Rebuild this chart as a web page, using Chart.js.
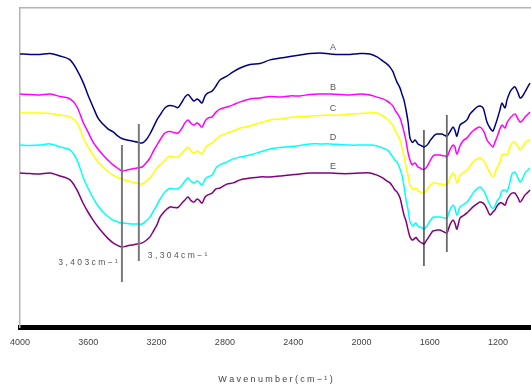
<!DOCTYPE html>
<html>
<head>
<meta charset="utf-8">
<title>FTIR spectra A–E</title>
<script src="https://cdn.jsdelivr.net/npm/chart.js@4.4.1/dist/chart.umd.min.js"></script>
<style>
  html, body { margin: 0; padding: 0; background: #ffffff; }
  #wrap { width: 531px; height: 386px; }
</style>
</head>
<body>
<div id="wrap"><canvas id="c" width="531" height="386"></canvas></div>
<script>
// Wavenumber grid (cm-1), shared by all five spectra
const WAVENUMBERS = [
  4000, 3941, 3883, 3824, 3766, 3707,
  3666, 3631, 3602, 3572, 3543,
  3514, 3485, 3455, 3426, 3403,
  3373, 3344, 3315, 3285, 3262,
  3239, 3215, 3198, 3180, 3157,
  3139, 3121, 3098, 3075, 3051,
  3034, 3016, 2998, 2981, 2963,
  2952, 2934, 2916, 2899, 2875,
  2852, 2829, 2788, 2752, 2711,
  2653, 2594, 2536, 2477, 2419,
  2360, 2301, 2243, 2184, 2126,
  2067, 2009, 1950, 1909, 1874,
  1850, 1833, 1815, 1804, 1792,
  1774, 1763, 1751, 1739, 1727,
  1716, 1704, 1698, 1687, 1681,
  1669, 1657, 1646, 1634, 1622,
  1610, 1599, 1581, 1570, 1558,
  1540, 1529, 1511, 1499, 1482,
  1464, 1453, 1441, 1423, 1406,
  1382, 1364, 1347, 1323, 1306,
  1288, 1277, 1265, 1247, 1230,
  1218, 1206, 1189, 1177, 1159,
  1148, 1130, 1118, 1101, 1083,
  1071, 1060, 1042, 1030, 1013
];

// Transmittance (offset, arbitrary units) for each sample
const SERIES_A = [
  91.2, 91.0, 91.0, 91.3, 90.5, 89.2,
  85.8, 81.8, 77.5, 73.5, 69.8,
  67.8, 66.2, 65.2, 63.8, 63.0,
  62.5, 62.2, 61.8, 61.5, 62.5,
  64.5, 67.2, 69.2, 70.8, 72.8,
  73.7, 74.0, 73.8, 73.3, 75.2,
  76.8, 77.7, 76.5, 75.5, 76.2,
  75.8, 74.8, 77.2, 78.2, 78.8,
  80.5, 82.5, 83.8, 85.2, 86.5,
  87.7, 88.0, 89.2, 89.8, 90.3,
  90.8, 91.3, 91.5, 91.2, 91.0,
  91.0, 91.3, 91.2, 90.2, 88.8,
  87.8, 86.8, 85.2, 83.5, 81.8,
  79.8, 77.8, 75.8, 72.5, 68.5,
  63.2, 61.8, 61.8, 62.5, 62.2,
  61.2, 60.8, 60.5, 60.2, 60.5,
  61.2, 62.2, 63.5, 64.2, 64.5,
  64.5, 64.5, 64.0, 63.8, 65.2,
  66.8, 65.8, 63.8, 67.5, 68.2,
  69.2, 71.2, 72.2, 73.5, 73.8,
  73.2, 71.2, 68.5, 66.5, 65.5,
  67.2, 69.2, 72.5, 74.8, 73.2,
  75.8, 78.5, 79.5, 80.2, 78.2,
  76.5, 76.8, 78.5, 79.8, 81.5
];

const SERIES_B = [
  77.8, 77.7, 77.5, 77.8, 77.0, 76.2,
  73.5, 68.5, 65.2, 61.8, 59.5,
  57.5, 55.8, 54.2, 53.0, 52.2,
  52.5, 52.8, 53.2, 53.5, 54.8,
  56.5, 59.2, 60.8, 62.5, 64.5,
  65.2, 65.3, 65.0, 64.8, 66.5,
  68.2, 69.2, 68.0, 67.5, 68.2,
  67.8, 66.8, 68.8, 69.8, 70.2,
  71.8, 72.8, 73.5, 74.2, 75.2,
  76.2, 76.5, 77.0, 76.8, 77.2,
  77.2, 77.7, 77.8, 77.8, 77.7,
  77.5, 77.8, 77.5, 76.8, 76.2,
  75.5, 74.8, 73.8, 72.5, 71.5,
  69.8, 67.8, 65.2, 62.2, 58.2,
  55.8, 54.2, 54.5, 54.8, 54.5,
  53.5, 53.2, 52.8, 52.7, 53.2,
  54.2, 55.5, 57.2, 57.5, 57.5,
  57.5, 57.3, 57.2, 56.8, 59.2,
  60.8, 60.2, 57.8, 60.5, 62.2,
  63.2, 64.5, 65.5, 66.5, 66.8,
  65.8, 64.5, 62.5, 61.2, 60.2,
  61.8, 63.5, 66.2, 67.5, 66.5,
  68.2, 69.8, 70.5, 71.2, 69.5,
  68.5, 68.8, 70.2, 70.8, 71.8
];

const SERIES_C = [
  71.5, 71.5, 71.5, 71.3, 70.8, 70.2,
  68.2, 63.5, 60.2, 57.5, 55.2,
  53.5, 52.0, 50.8, 50.0, 49.5,
  49.0, 48.5, 48.2, 47.8, 48.8,
  49.8, 51.8, 53.2, 54.2, 55.5,
  56.5, 57.2, 56.8, 56.8, 58.2,
  59.2, 60.2, 58.8, 58.2, 58.8,
  58.5, 57.8, 59.8, 60.8, 61.5,
  62.8, 63.8, 64.8, 65.5, 66.5,
  67.2, 68.2, 69.2, 69.5, 70.0,
  70.3, 70.5, 70.7, 70.8, 70.8,
  71.2, 71.3, 71.5, 71.5, 70.5,
  69.5, 68.5, 67.2, 65.8, 64.5,
  62.5, 59.8, 57.2, 53.8, 50.5,
  47.5, 46.5, 46.0, 46.3, 46.5,
  45.5, 45.2, 45.0, 44.8, 45.5,
  46.5, 47.2, 48.2, 48.2, 48.0,
  47.8, 47.8, 47.5, 47.5, 49.8,
  51.5, 50.5, 48.2, 50.8, 51.5,
  52.5, 53.8, 55.2, 56.2, 56.5,
  55.8, 54.8, 53.5, 51.5, 50.2,
  51.5, 53.2, 55.2, 57.5, 57.8,
  57.5, 60.2, 61.5, 61.8, 60.2,
  59.2, 59.8, 61.5, 62.2, 62.5
];

const SERIES_D = [
  60.8, 60.7, 60.8, 61.2, 60.2, 59.2,
  55.8, 50.2, 46.5, 43.2, 40.5,
  38.5, 37.0, 35.8, 35.2, 34.8,
  34.7, 34.5, 34.5, 34.5, 35.5,
  36.8, 39.2, 40.8, 42.8, 44.8,
  45.8, 46.3, 46.2, 46.2, 47.5,
  48.8, 49.8, 48.7, 48.2, 48.8,
  48.5, 47.5, 49.5, 50.2, 50.8,
  53.2, 54.2, 55.2, 56.2, 56.8,
  57.5, 58.5, 59.5, 60.0, 60.3,
  60.7, 61.2, 61.2, 61.2, 61.0,
  60.8, 60.8, 60.8, 60.5, 59.8,
  59.2, 58.2, 56.8, 55.8, 55.2,
  52.8, 50.8, 47.2, 42.5, 39.2,
  35.2, 34.2, 33.8, 34.7, 34.8,
  33.8, 33.5, 33.2, 32.8, 33.5,
  34.5, 35.5, 36.8, 36.8, 36.8,
  36.8, 36.7, 36.5, 36.5, 39.2,
  40.8, 39.8, 37.5, 40.2, 40.8,
  41.8, 43.2, 44.8, 46.2, 46.8,
  45.8, 44.8, 43.2, 40.8, 39.7,
  40.5, 42.2, 43.5, 45.5, 45.8,
  45.2, 48.5, 51.2, 51.8, 49.8,
  48.5, 49.2, 51.5, 52.2, 53.2
];

const SERIES_E = [
  51.5, 51.3, 51.2, 51.5, 50.5, 49.2,
  45.8, 41.5, 38.5, 35.8, 33.5,
  31.5, 29.7, 28.2, 27.3, 26.8,
  27.2, 27.5, 27.8, 28.2, 29.0,
  30.2, 32.5, 34.2, 36.8, 38.5,
  39.5, 40.2, 40.0, 40.0, 41.5,
  42.5, 43.5, 42.3, 41.8, 42.8,
  42.5, 41.5, 43.5, 44.2, 44.8,
  46.2, 46.5, 47.8, 48.2, 49.2,
  49.8, 50.2, 50.2, 50.5, 50.8,
  51.2, 51.5, 51.5, 51.5, 51.3,
  51.3, 51.5, 51.5, 50.8, 49.8,
  48.8, 48.2, 46.8, 45.8, 45.2,
  43.2, 40.5, 37.5, 35.5, 32.5,
  30.2, 29.2, 29.2, 29.8, 30.0,
  29.2, 28.5, 28.2, 27.8, 28.8,
  29.8, 30.8, 32.2, 32.3, 32.5,
  32.5, 32.2, 31.7, 31.5, 34.2,
  35.8, 34.8, 32.8, 36.5, 37.2,
  38.2, 39.2, 40.2, 41.2, 41.8,
  41.5, 40.8, 39.5, 37.5, 38.5,
  39.2, 40.5, 41.5, 41.5, 40.8,
  42.5, 44.2, 44.8, 44.8, 43.2,
  41.8, 42.5, 44.2, 44.8, 45.8
];

const SERIES_NAMES = ['A', 'B', 'C', 'D', 'E'];
const SERIES_VALUES = [SERIES_A, SERIES_B, SERIES_C, SERIES_D, SERIES_E];

// Band markers: wavenumber and vertical extent of each guide line
const MARK_WAVENUMBERS = [3403, 3304, 1634, 1500];
const MARK_TOP = [60.8, 67.8, 65.8, 70.8];
const MARK_BOTTOM = [15.2, 22.2, 20.5, 25.2];
const MARK_LABELS = ['3,403cm\u2212\u00b9', '3,304cm\u2212\u00b9', '', ''];

// X axis tick labels
const TICK_VALUES = [4000, 3600, 3200, 2800, 2400, 2000, 1600, 1200];
const AXIS_TITLE = 'Wavenumber(cm\u2212\u00b9)';

// ---- styling ----
const FONT = '"Liberation Sans", Arial, sans-serif';
const SERIES_COLORS = ['#000080', '#ff00ff', '#ffff00', '#00ffff', '#800080'];
const MARK_STYLES = [
  { color: '#7a7a7a', width: 2 },
  { color: '#7a7a7a', width: 2 },
  { color: '#1a1a1a', width: 1.2 },
  { color: '#6a6a6a', width: 1.8 }
];

function valueAt(series, wn) {
  for (let i = 0; i < WAVENUMBERS.length - 1; i++) {
    const a = WAVENUMBERS[i], b = WAVENUMBERS[i + 1];
    if (wn <= a && wn >= b) {
      const t = (a - wn) / (a - b);
      return series[i] + t * (series[i + 1] - series[i]);
    }
  }
  return series[series.length - 1];
}

function spacedText(ctx, text, x, y, spacing, align) {
  const chars = Array.from(text);
  const widths = chars.map(ch => ctx.measureText(ch).width);
  const total = widths.reduce((s, w) => s + w, 0) + spacing * (chars.length - 1);
  let cx = align === 'center' ? x - total / 2 : (align === 'right' ? x - total : x);
  ctx.textAlign = 'left';
  chars.forEach((ch, i) => {
    ctx.fillText(ch, cx, y);
    cx += widths[i] + spacing;
  });
}

// Draws series letters, band labels and the spaced axis title
const annotationPlugin = {
  id: 'spectraText',
  afterDraw(chart, args, opts) {
    const { ctx, chartArea } = chart;
    const xs = chart.scales.x, ys = chart.scales.y;
    ctx.save();
    ctx.textBaseline = 'middle';

    // series letters above each trace
    ctx.font = '9px ' + FONT;
    ctx.fillStyle = '#555555';
    SERIES_NAMES.forEach((name, i) => {
      const v = valueAt(SERIES_VALUES[i], opts.nameWavenumber);
      const px = xs.getPixelForValue(opts.nameWavenumber);
      const py = ys.getPixelForValue(v) - opts.nameLift;
      ctx.textAlign = 'center';
      ctx.fillText(name, px, py);
    });

    // band labels
    ctx.font = '8.5px ' + FONT;
    ctx.fillStyle = '#555555';
    opts.bandLabels.forEach(lb => {
      const text = MARK_LABELS[lb.index];
      if (!text) return;
      const px = xs.getPixelForValue(MARK_WAVENUMBERS[lb.index]) + lb.dx;
      const py = ys.getPixelForValue(lb.level);
      spacedText(ctx, text, px, py, 2.4, lb.align);
    });

    // axis title
    ctx.font = '9px ' + FONT;
    ctx.fillStyle = '#444444';
    spacedText(ctx, AXIS_TITLE, (chartArea.left + chartArea.right) / 2, opts.titleY, 2.3, 'center');
    ctx.restore();
  }
};

const datasets = [];
MARK_WAVENUMBERS.forEach((wn, i) => {
  datasets.push({
    label: 'band ' + wn,
    data: [{ x: wn, y: MARK_TOP[i] }, { x: wn, y: MARK_BOTTOM[i] }],
    borderColor: MARK_STYLES[i].color,
    borderWidth: MARK_STYLES[i].width,
    pointRadius: 0,
    tension: 0,
    order: 0
  });
});
SERIES_NAMES.forEach((name, i) => {
  datasets.push({
    label: name,
    data: WAVENUMBERS.map((w, k) => ({ x: w, y: SERIES_VALUES[i][k] })),
    borderColor: SERIES_COLORS[i],
    borderWidth: 1.5,
    pointRadius: 0,
    tension: 0.3,
    order: 1
  });
});

new Chart(document.getElementById('c'), {
  type: 'line',
  data: { datasets },
  options: {
    responsive: false,
    animation: false,
    events: [],
    layout: { padding: 0 },
    plugins: {
      legend: { display: false },
      tooltip: { enabled: false },
      spectraText: {
        nameWavenumber: 2167,
        nameLift: 7,
        titleY: 380,
        bandLabels: [
          { index: 0, level: 21.5, dx: -4, align: 'right' },
          { index: 1, level: 23.8, dx: 9, align: 'left' }
        ]
      }
    },
    scales: {
      x: {
        type: 'linear',
        position: 'bottom',
        reverse: true,
        min: 1007,
        max: 4000,
        afterBuildTicks: s => { s.ticks = TICK_VALUES.map(v => ({ value: v })); },
        afterFit: s => { s.height = 58.5; },
        grid: { display: false, drawTicks: false },
        border: { display: true, color: '#000000', width: 5 },
        ticks: {
          padding: 10,
          color: '#444444',
          font: { family: FONT, size: 9 },
          maxRotation: 0,
          autoSkip: false,
          callback: v => String(v)
        }
      },
      top: {
        type: 'linear',
        position: 'top',
        afterFit: s => { s.height = 8; },
        grid: { display: false, drawTicks: false },
        border: { display: true, color: '#b4b4b4', width: 1.5 },
        ticks: { display: false }
      },
      y: {
        type: 'linear',
        position: 'left',
        min: 0,
        max: 106.5,
        afterFit: s => { s.width = 20; },
        grid: { display: false, drawTicks: false },
        border: { display: true, color: '#b4b4b4', width: 1.5 },
        ticks: { display: false }
      }
    }
  },
  plugins: [annotationPlugin]
});
</script>
</body>
</html>
